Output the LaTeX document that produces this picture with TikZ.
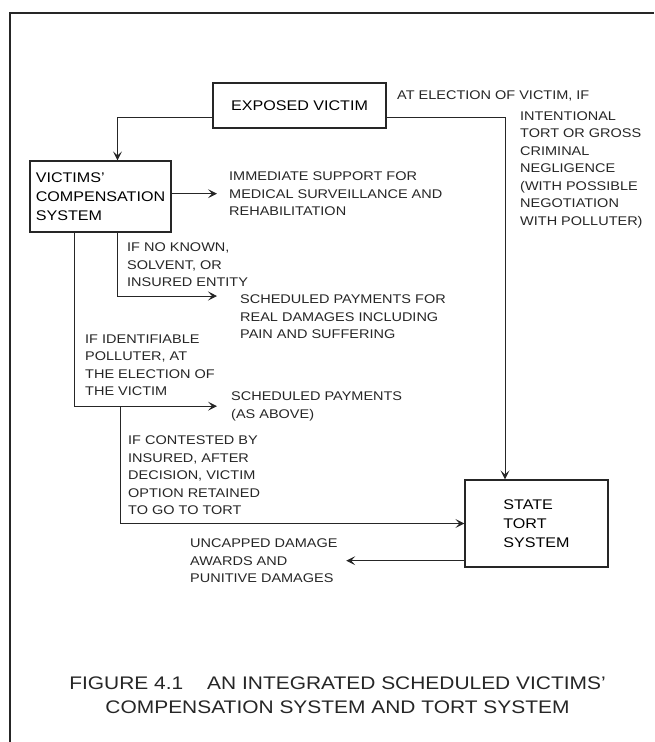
\documentclass[tikz,border=0pt]{standalone}
\usepackage{fontspec}
\setmainfont{Liberation Sans}[FakeStretch=1.15]
\usetikzlibrary{arrows.meta}
\tikzset{
  comp frame/.style={black!85,line width=1.6pt},
  comp box/.style={
    draw=black!85,line width=1.2pt,inner sep=3pt,align=left,
    font=\fontsize{14}{19}\selectfont
  },
  comp note/.style={
    inner sep=0pt,anchor=north west,align=left,text=black!85,
    font=\fontsize{12.6}{17.5}\selectfont
  },
  comp flow/.style={black!85,line width=1pt,
    -{Stealth[length=9pt,width=9pt,inset=4pt]}}
}
\begin{document}
\begin{tikzpicture}[x=1pt,y=-1pt]
  \useasboundingbox (0,0) rectangle (654,742);
  \draw[comp frame] (654,13)--(10,13)--(10,742);
  % boxes
  \node[comp box,minimum width=173pt,minimum height=45pt] (exposed) at (299.5,105.5) {EXPOSED VICTIM};
  \node[comp box,minimum width=141pt,minimum height=71pt] (vcs) at (100.5,196.5)
    {VICTIMS'\\COMPENSATION\\SYSTEM};
  \node[comp box,minimum width=143pt,minimum height=87pt] (state) at (536.5,523.5)
    {STATE\\TORT\\SYSTEM};
  % notes
  \node[comp note,anchor=west] (election) at (397,96) {AT ELECTION OF VICTIM, IF};
  \node[comp note] (intentional) at (520,111) {INTENTIONAL\\TORT OR GROSS\\CRIMINAL\\NEGLIGENCE\\(WITH POSSIBLE\\NEGOTIATION\\WITH POLLUTER)};
  \node[comp note] (immediate) at (229,171.5) {IMMEDIATE SUPPORT FOR\\MEDICAL SURVEILLANCE AND\\REHABILITATION};
  \node[comp note] (noknown) at (127,242.5) {IF NO KNOWN,\\SOLVENT, OR\\INSURED ENTITY};
  \node[comp note] (schedreal) at (240,294.5) {SCHEDULED PAYMENTS FOR\\REAL DAMAGES INCLUDING\\PAIN AND SUFFERING};
  \node[comp note] (identifiable) at (85,334.5) {IF IDENTIFIABLE\\POLLUTER, AT\\THE ELECTION OF\\THE VICTIM};
  \node[comp note] (schedabove) at (231,391.5) {SCHEDULED PAYMENTS\\(AS ABOVE)};
  \node[comp note] (contested) at (128,435.5) {IF CONTESTED BY\\INSURED, AFTER\\DECISION, VICTIM\\OPTION RETAINED\\TO GO TO TORT};
  \node[comp note] (uncapped) at (190,538.5) {UNCAPPED DAMAGE\\AWARDS AND\\PUNITIVE DAMAGES};
  \node[inner sep=0pt,anchor=north,align=center,text=black!85,
    font=\fontsize{18.2}{24}\selectfont] (caption) at (337.5,676.5)
    {FIGURE 4.1\hspace{24pt}AN INTEGRATED SCHEDULED VICTIMS'\\COMPENSATION SYSTEM AND TORT SYSTEM};
  % connectors
  \draw[comp flow] ([yshift=-11.5pt]exposed.west) -| ([xshift=17pt]vcs.north);
  \draw[comp flow] ([yshift=-11.5pt]exposed.east) -| ([xshift=-31.5pt]state.north);
  \draw[comp flow] (vcs.east |- immediate.west) -- ([xshift=-12pt]immediate.west);
  \draw[comp flow] ([xshift=17pt]vcs.south) |- ([xshift=-23pt,yshift=-1.5pt]schedreal.north west);
  \draw[comp flow] ([xshift=-26.5pt]vcs.south) |- ([xshift=-14pt]schedabove.west);
  \coordinate (fork) at ([xshift=19.5pt]vcs.south |- schedabove.west);
  \draw[comp flow] (fork) |- (state.west);
  \draw[comp flow] (state.west |- uncapped.east) -- ([xshift=8.5pt]uncapped.east);
\end{tikzpicture}
\end{document}
